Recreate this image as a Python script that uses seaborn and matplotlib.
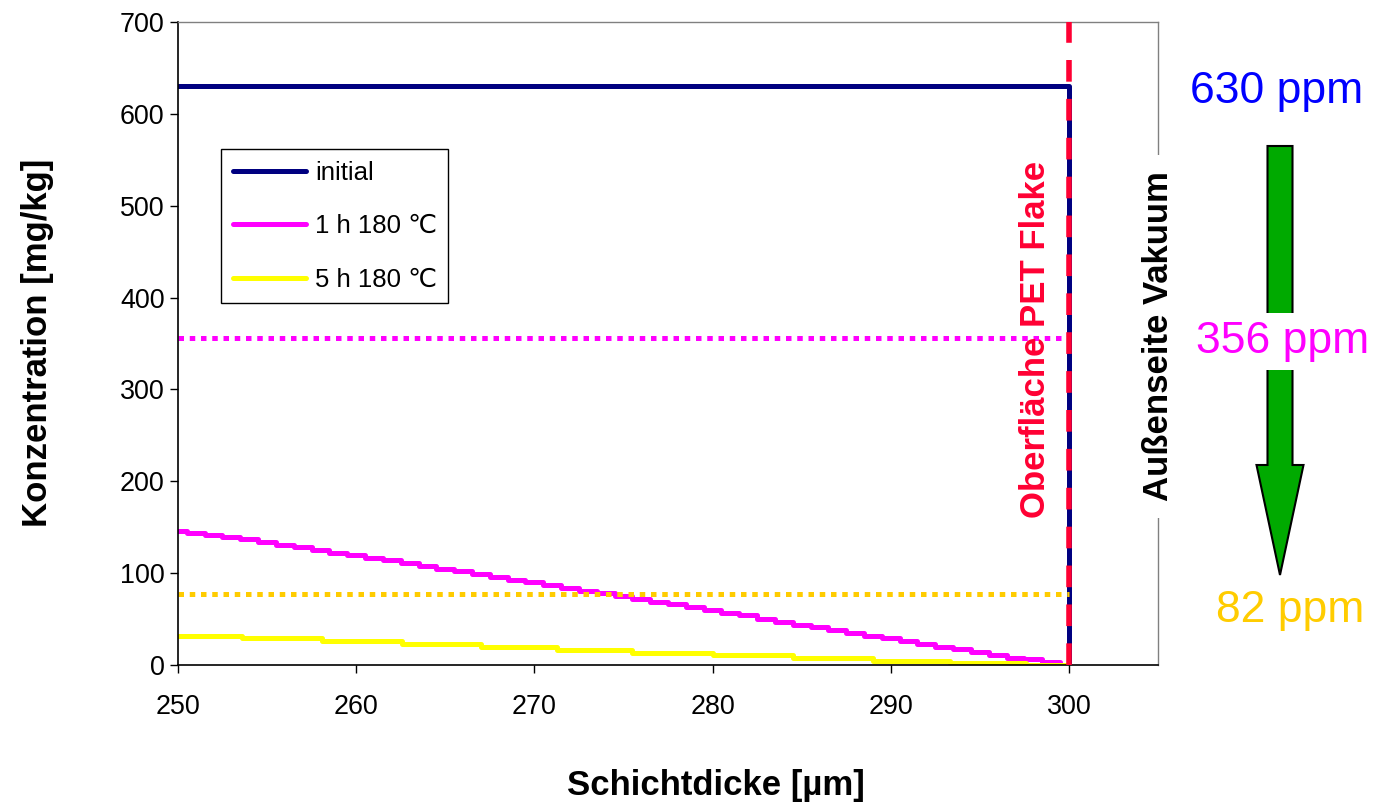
import matplotlib.pyplot as plt
import matplotlib.patches as mpatches
import seaborn as sns
import numpy as np

sns.set_style('ticks')
plt.rcParams['font.family'] = ['Liberation Sans', 'DejaVu Sans']
plt.rcParams['text.color'] = 'black'
plt.rcParams['axes.labelcolor'] = 'black'
plt.rcParams['xtick.color'] = 'black'
plt.rcParams['ytick.color'] = 'black'

# values
x_initial = [250, 300, 300]
y_initial = [630, 630, 0]

x_1h = np.arange(250, 301)
y_1h = [146, 144, 141, 139, 137, 134, 131, 128, 125, 122,
        120, 117, 114, 111, 108, 105, 102, 99, 96, 93,
        90, 87, 84, 81, 78, 75, 72, 69, 66, 63,
        60, 57, 54, 50, 47, 44, 41, 38, 35, 32,
        29, 26, 23, 20, 17, 14, 11, 8, 6, 3, 0]

x_5h = [250, 253.6, 258.1, 262.6, 267.0, 271.3, 275.5, 280.0, 284.5, 289.0, 293.3, 297.6, 300]
y_5h = [32, 29, 26, 22.5, 19.6, 16.3, 13.4, 10.5, 7.6, 4.7, 2, 0, 0]

mean_1h = 356
mean_5h = 77
surface = 300
ppm_labels = ['630 ppm', '356 ppm', '82 ppm']
ppm_colors = ['#0000FF', '#FF00FF', '#FFCC00']

navy = '#000080'
magenta = '#FF00FF'
yellow = '#FFFF00'
red = '#FF0033'

fig = plt.figure(figsize=(13.88, 8.05), dpi=100)
ax = fig.add_axes([0.1282, 0.1739, 0.7061, 0.7988])

sns.lineplot(x=x_initial, y=y_initial, ax=ax, color=navy, lw=3.6,
             label='initial', sort=False, estimator=None)
sns.lineplot(x=x_1h, y=y_1h, ax=ax, color=magenta, lw=3.6,
             label='1 h 180 ℃', sort=False, estimator=None, drawstyle='steps-mid')
sns.lineplot(x=x_5h, y=y_5h, ax=ax, color=yellow, lw=3.6,
             label='5 h 180 ℃', sort=False, estimator=None, drawstyle='steps-post')

# mean levels (dotted)
ax.plot([250, surface], [mean_1h, mean_1h], color=magenta, lw=3.6,
        ls=(0, (1.1, 1.15)), dash_capstyle='butt')
ax.plot([250, surface], [mean_5h, mean_5h], color='#FFCC00', lw=3.6,
        ls=(0, (1.1, 1.15)), dash_capstyle='butt')

# surface marker
ax.axvline(surface, color=red, lw=4, ls=(0, (3.9, 3.1)), zorder=5)

ax.set_xlim(250, 305)
ax.set_ylim(0, 700)
ax.set_xticks(range(250, 301, 10))
ax.set_yticks(range(0, 701, 100))
ax.tick_params(labelsize=19.4, length=6, width=1, direction='out', color='black',
               labelcolor='black', pad=3.6)
ax.tick_params(axis='x', pad=15)

for s in ['left', 'bottom']:
    ax.spines[s].set_color('black')
    ax.spines[s].set_linewidth(1.2)
for s in ['top', 'right']:
    ax.spines[s].set_color('#808080')
    ax.spines[s].set_linewidth(1)

ax.set_xlabel('Schichtdicke [µm]', fontsize=25, fontweight='bold', color='black')
ax.set_ylabel('Konzentration [mg/kg]', fontsize=25, fontweight='bold', color='black')
ax.xaxis.set_label_coords(0.549, -0.1866)
ax.xaxis.label.set_va('center')
ax.yaxis.set_label_coords(-0.1429, 0.5008)
ax.yaxis.label.set_va('center')

leg = ax.legend(loc='upper left', bbox_to_anchor=(0.0439, 0.8025), borderaxespad=0,
                frameon=True, fancybox=False, edgecolor='black', framealpha=1,
                fontsize=18.5, handlelength=2.85, handletextpad=0.35,
                labelspacing=1.15, borderpad=0.45)
leg.get_frame().set_linewidth(1)
for t in leg.get_texts():
    t.set_color('black')

ax.text(298.65, 354, 'Oberfläche PET Flake', rotation=90, rotation_mode='anchor',
        ha='center', va='baseline', color=red, fontsize=25, fontweight='bold', zorder=6)
ax.text(305.56, 358, 'Außenseite Vakuum', rotation=90, rotation_mode='anchor',
        ha='center', va='baseline', color='black', fontsize=25, fontweight='bold',
        zorder=6, clip_on=False,
        bbox=dict(facecolor='white', edgecolor='none', pad=12))

# overlay in pixel coordinates for the arrow and ppm labels
ov = fig.add_axes([0, 0, 1, 1])
ov.set_xlim(0, 1388)
ov.set_ylim(805, 0)
ov.axis('off')

arrow = mpatches.FancyArrow(1280, 146, 0, 429, width=25, head_width=47, head_length=110,
                            length_includes_head=True, fc='#00AA00', ec='black', lw=1.5)
ov.add_patch(arrow)

ppm_pos = [(1277, 103), (1283, 353), (1290, 622)]
for (px, py), lab, col in zip(ppm_pos, ppm_labels, ppm_colors):
    ov.text(px, py, lab, ha='center', va='baseline', color=col, fontsize=32, zorder=5,
            bbox=dict(facecolor='white', edgecolor='none', pad=6))

fig.savefig('out.png', dpi=100)
